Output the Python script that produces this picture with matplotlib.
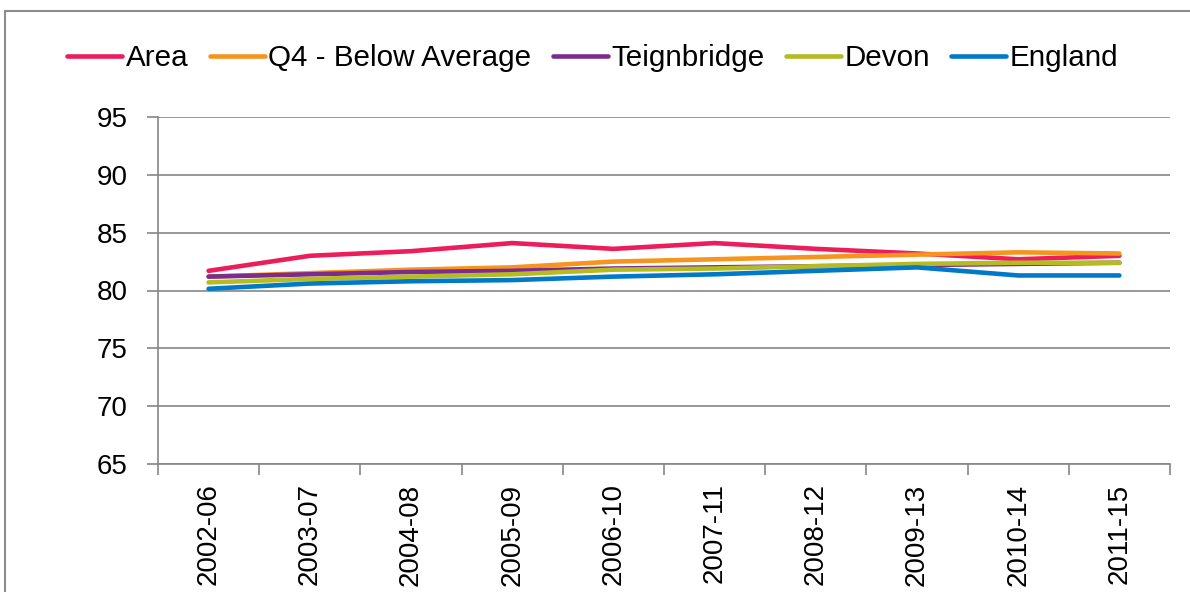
import numpy as np
import matplotlib
matplotlib.use("Agg")
import matplotlib.pyplot as plt
from matplotlib.patches import Rectangle

plt.rcParams["font.family"] = ["Liberation Sans", "DejaVu Sans"]

periods = ["2002-06", "2003-07", "2004-08", "2005-09", "2006-10",
           "2007-11", "2008-12", "2009-13", "2010-14", "2011-15"]

area        = [81.7, 83.0, 83.4, 84.1, 83.6, 84.1, 83.6, 83.2, 82.7, 83.0]
q4_below    = [81.2, 81.5, 81.8, 82.0, 82.5, 82.7, 82.9, 83.1, 83.3, 83.2]
teignbridge = [81.2, 81.4, 81.6, 81.7, 81.9, 82.0, 82.1, 82.2, 82.3, 82.4]
devon       = [80.7, 81.0, 81.2, 81.4, 81.8, 81.9, 82.1, 82.3, 82.4, 82.4]
england     = [80.15, 80.6, 80.8, 80.9, 81.2, 81.4, 81.7, 82.0, 81.3, 81.3]

series = [
    ("Area", area, "#ED1C5B"),
    ("Q4 - Below Average", q4_below, "#F7941D"),
    ("Teignbridge", teignbridge, "#7B2C8E"),
    ("Devon", devon, "#B4BC21"),
    ("England", england, "#0079C8"),
]

fig = plt.figure(figsize=(11.9, 5.92), dpi=100)
fig.patches.append(Rectangle((5 / 1190, -0.1), 1.2, 1 - 11 / 592 + 0.1,
                             transform=fig.transFigure, fill=False,
                             edgecolor="#8C8C8C", lw=1.5))

ax = fig.add_axes([158 / 1190, 1 - 464 / 592, 1012 / 1190, 347 / 592])
x = np.arange(len(periods))
for name, vals, col in series:
    ax.plot(x, vals, color=col, lw=3.3, label=name, solid_capstyle="round")

ax.set_xlim(-0.5, len(periods) - 0.5)
ax.set_ylim(65, 95)
ax.set_yticks(np.arange(65, 96, 5))
ax.set_xticks(x)
ax.set_xticklabels(periods, rotation=90)
ax.set_xticks(np.arange(-0.5, len(periods), 1), minor=True)

ax.tick_params(axis="y", labelsize=20, length=8, width=1.2, color="#868686",
               pad=14, labelcolor="black")
ax.tick_params(axis="x", which="major", labelsize=20, length=0, pad=14)
ax.tick_params(axis="x", which="minor", length=8, width=1.2, color="#868686")

ax.grid(axis="y", color="#868686", lw=1.2)
ax.set_axisbelow(True)
for s in ["top", "right"]:
    ax.spines[s].set_visible(False)
for s in ["left", "bottom"]:
    ax.spines[s].set_color("#868686")
    ax.spines[s].set_linewidth(1.2)

fig.legend(loc="center", bbox_to_anchor=(593 / 1190, 1 - 58 / 592), ncol=5,
           frameon=False, fontsize=21.3, handlelength=1.85, handletextpad=0.13,
           columnspacing=0.72, borderaxespad=0)

fig.savefig("out.png", dpi=100)
